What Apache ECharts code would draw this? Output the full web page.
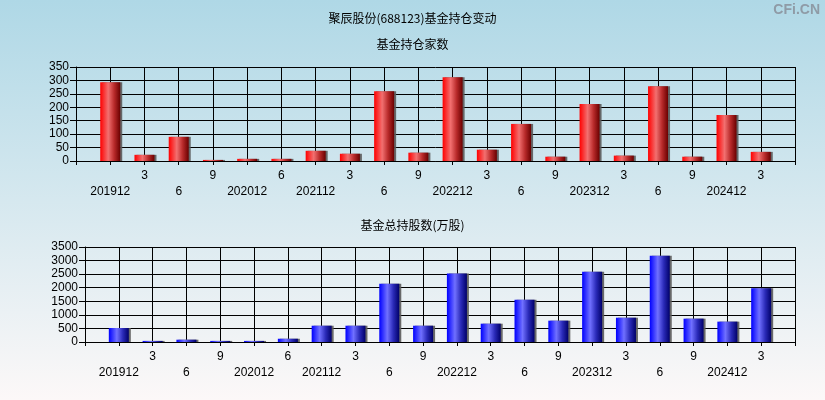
<!DOCTYPE html>
<html><head><meta charset="utf-8">
<script src="https://cdn.jsdelivr.net/npm/echarts@6/dist/echarts.min.js"></script>
<style>html,body{margin:0;padding:0;}#c{width:825px;height:400px;}</style>
</head><body><div id="c"></div>
<script>
const categories = ['201912','3','6','9','202012','6','202112','3','6','9','202212','3','6','9','202312','3','6','9','202412','3'];
const fundCount = [293,23,90,4,8,8,38,27,260,31,312,42,138,16,212,20,278,16,171,34];
const fundShares = [515,40,85,40,40,120,600,600,2150,600,2520,675,1560,786,2590,895,3180,860,750,1977];
const countTicks = {min:0,max:350,interval:50};
const shareTicks = {min:0,max:3500,interval:500};

const axisCats = [''].concat(categories, ['']);
const pad = arr => ['-'].concat(arr, ['-']);
const font = 'Arial, "Liberation Sans", sans-serif';
const cjk = '"Noto Sans CJK SC", sans-serif';

function xAxis(gi){
  return {
    type:'category', gridIndex:gi, data:axisCats, boundaryGap:false,
    axisLine:{show:true,lineStyle:{color:'#000',width:1}},
    axisTick:{show:true,interval:0,length:4,lineStyle:{color:'#000'}},
    splitLine:{show:true,interval:0,lineStyle:{color:'#000',width:1}},
    axisLabel:{interval:0,margin:7,fontSize:12,fontFamily:font,color:'#000',lineHeight:16,
      formatter:(v,i)=> (i%2===1 ? '\n'+v : v)}
  };
}
function yAxis(gi,t){
  return {
    type:'value', gridIndex:gi, min:t.min, max:t.max, interval:t.interval,
    axisLine:{show:true,lineStyle:{color:'#000',width:1}},
    axisTick:{show:true,length:6,lineStyle:{color:'#000'}},
    splitLine:{show:true,lineStyle:{color:'#000',width:1}},
    axisLabel:{margin:7,fontSize:12,fontFamily:font,color:'#000',formatter:v=>String(v)}
  };
}
function grad(c0,c1,c2,c3){
  return {type:'linear',x:0,y:0,x2:1,y2:0,colorStops:[
    {offset:0,color:c0},{offset:0.4,color:c1},{offset:0.7,color:c2},{offset:1,color:c3}]};
}
const chart = echarts.init(document.getElementById('c'),null,{renderer:'canvas'});
chart.setOption({
  animation:false,
  backgroundColor:{type:'linear',x:0,y:0,x2:0,y2:1,colorStops:[{offset:0,color:'#afd8e6'},{offset:1,color:'#fcf8f8'}]},
  title:[
    {text:'聚辰股份(688123)基金持仓变动',left:'center',top:7,textStyle:{fontSize:12,fontWeight:'normal',color:'#000',fontFamily:cjk}},
    {text:'基金持仓家数',left:'center',top:33,textStyle:{fontSize:12,fontWeight:'normal',color:'#000',fontFamily:cjk}},
    {text:'基金总持股数(万股)',left:'center',top:214,textStyle:{fontSize:12,fontWeight:'normal',color:'#000',fontFamily:cjk}}
  ],
  graphic:[{type:'text',right:5,top:3,style:{text:'CFi.CN',fontSize:14,fontWeight:'bold',fontFamily:font,fill:'#8f9ba6'}}],
  grid:[
    {left:76,right:30,top:67,height:94,containLabel:false},
    {left:85,right:30,top:247,height:95,containLabel:false}
  ],
  xAxis:[xAxis(0),xAxis(1)],
  yAxis:[yAxis(0,countTicks),yAxis(1,shareTicks)],
  series:[
    {type:'bar',xAxisIndex:0,yAxisIndex:0,data:pad(fundCount),barWidth:20,
      itemStyle:{color:grad('#ff0000','#f27070','#b82a2a','#6a0000'),shadowColor:'rgba(90,90,90,0.9)',shadowOffsetX:2,shadowOffsetY:0,shadowBlur:0}},
    {type:'bar',xAxisIndex:1,yAxisIndex:1,data:pad(fundShares),barWidth:20,
      itemStyle:{color:grad('#0000ff','#7070ff','#2a2ab8','#00006a'),shadowColor:'rgba(90,90,90,0.9)',shadowOffsetX:2,shadowOffsetY:0,shadowBlur:0}}
  ]
});
</script></body></html>
